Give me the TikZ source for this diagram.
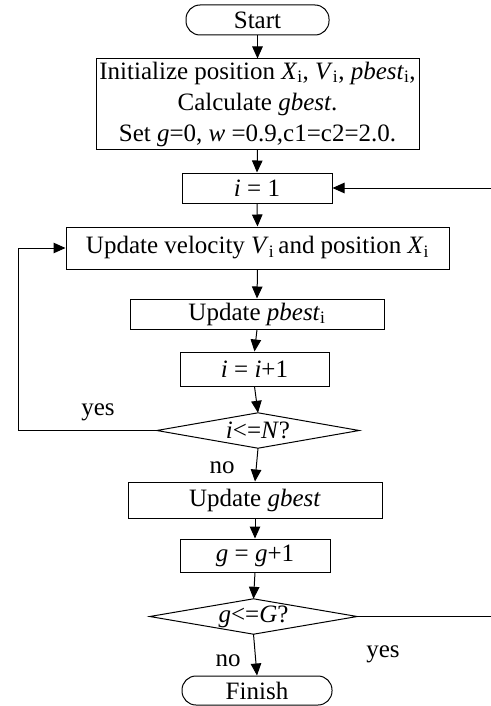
\documentclass[tikz,border=0pt]{standalone}
\usepackage{fontspec}
\setmainfont{Liberation Serif}
\usetikzlibrary{arrows.meta}
\newcommand{\sub}[1]{\textsubscript{#1}}
\begin{document}
\begin{tikzpicture}[x=1pt,y=-1pt,
  every node/.style={font=\fontsize{25}{31}\selectfont},
  box/.style={draw,line width=1pt,rectangle,inner sep=0pt,align=center},
  term/.style={box,rounded corners=14pt},
  dia/.style={rectangle,inner sep=0pt},
  lbl/.style={anchor=base,inner sep=0pt},
  conn/.style={line width=1pt},
  arr/.style={conn,-{Triangle[length=12pt,width=10.5pt]}}]
\useasboundingbox (0,0) rectangle (490,706);
\node[term,minimum width=143pt,minimum height=30pt] (start) at (257.5,20) {Start};
\node[box,minimum width=323pt,minimum height=90pt] (init) at (257.5,104)
  {Initialize position \textit{X}\sub{i}, \textit{V}\sub{i}, \textit{pbest}\sub{i},\\
   Calculate \textit{gbest}.\\
   Set \textit{g}=0, \textit{w} =0.9,c1=c2=2.0.};
\node[box,minimum width=150pt,minimum height=30pt] (i1) at (257,188) {\textit{i} = 1};
\node[box,minimum width=383pt,minimum height=42pt] (upd) at (257.5,248)
  {Update velocity \textit{V}\sub{i}\,and position \textit{X}\sub{i}};
\node[box,minimum width=254pt,minimum height=30pt] (pb) at (257,314) {Update \textit{pbest}\sub{i}};
\node[box,minimum width=149pt,minimum height=34pt] (inc) at (254.5,369) {\textit{i} = \textit{i}+1};
\node[dia,minimum width=202pt,minimum height=35pt] (dN) at (258,430.5) {\textit{i}<=\textit{N}?};
\draw[conn] (dN.west) -- (dN.north) -- (dN.east) -- (dN.south) -- cycle;
\node[box,minimum width=254pt,minimum height=36pt] (gb) at (255,500) {Update \textit{gbest}};
\node[box,minimum width=150pt,minimum height=33pt] (ginc) at (255,555.5) {\textit{g} = \textit{g}+1};
\node[dia,minimum width=207pt,minimum height=35pt] (dG) at (253.5,616.5) {\textit{g}<=\textit{G}?};
\draw[conn] (dG.west) -- (dG.north) -- (dG.east) -- (dG.south) -- cycle;
\node[term,minimum width=150pt,minimum height=29pt] (fin) at (257,690.5) {Finish};

\coordinate (lx) at (18,0);
\coordinate (rx) at (494,0);

\draw[arr] (start.south) -- (init.north);
\draw[arr] (init.south) -- (i1.north);
\draw[arr] (i1.south) -- (upd.north);
\draw[arr] (upd.south) -- (pb.north);
\draw[arr] (pb.south) -- (inc.north);
\draw[arr] (inc.south) -- (dN.north);
\draw[arr] (dN.south) -- (gb.north);
\draw[arr] (gb.south) -- (ginc.north);
\draw[arr] (ginc.south) -- (dG.north);
\draw[arr] (dG.south) -- (fin.north);
\draw[arr] (dN.west) -- (dN.west -| lx) |- (upd.west);
\draw[arr] (dG.east) -- (dG.east -| rx) |- (i1.east);

\node[lbl] (yes1) at (98,415) {yes};
\node[lbl] (no1) at (222,473) {no};
\node[lbl] (yes2) at (383,657) {yes};
\node[lbl] (no2) at (228,666) {no};
\end{tikzpicture}
\end{document}
